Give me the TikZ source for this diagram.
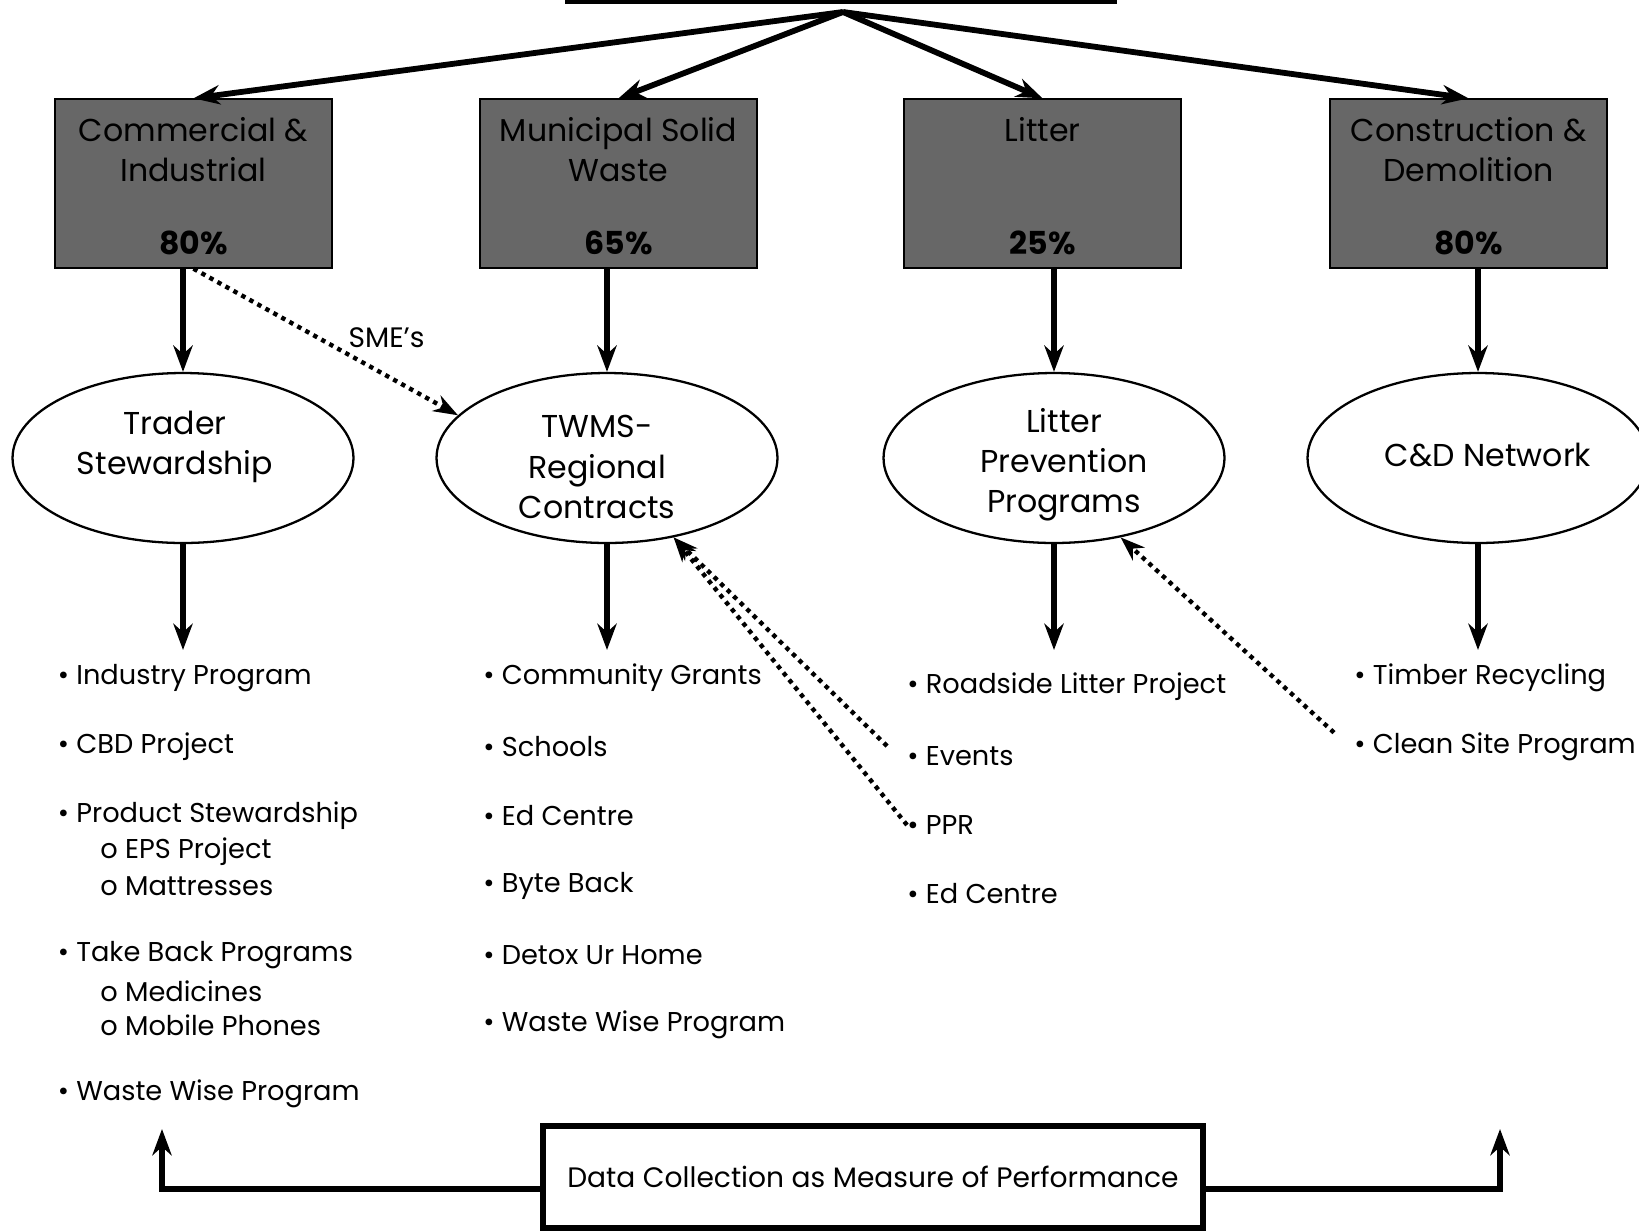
\documentclass[tikz,border=0pt]{standalone}
\usepackage{fontspec}
\setmainfont{Poppins}
\usetikzlibrary{arrows.meta,shapes.geometric}
\definecolor{boxgray}{RGB}{103,103,103}
\begin{document}
\begin{tikzpicture}[x=0.02cm, y=-0.02cm,
    stream/.style={draw, line width=0.8pt, fill=boxgray, minimum width=5.54cm, minimum height=3.38cm},
    streamtitle/.style={align=center, font=\fontsize{18}{22.8}\selectfont},
    percent/.style={font=\fontsize{18}{22.8}\selectfont\bfseries},
    program/.style={draw, ellipse, line width=1.3pt, inner sep=0pt, minimum width=6.82cm, minimum height=3.4cm},
    programtext/.style={align=center, font=\fontsize{18}{22.8}\selectfont},
    item/.style={anchor=west, inner sep=0pt, font=\fontsize{15.5}{19}\selectfont},
    flow/.style={line width=3.3pt, -{Stealth[length=15pt, width=11pt]}},
    hint/.style={line width=2.5pt, dash pattern=on 2.5pt off 2.7pt, -{Stealth[length=14pt, width=10pt]}},
    databox/.style={draw, line width=3.5pt, minimum width=13.2cm, minimum height=2.05cm, font=\fontsize{16}{20}\selectfont}]
  \useasboundingbox (0,0) rectangle (1639,1231);

  % waste streams
  \coordinate (apex) at (843,12);
  \draw[line width=2.3pt] (565,2) -- (1117,2);
  \node[stream] (ci) at (193.5,183.5) {};
  \node[stream] (msw) at (618.5,183.5) {};
  \node[stream] (lit) at (1042.5,183.5) {};
  \node[stream] (cd) at (1468.5,183.5) {};
  \node[streamtitle] (ci-title) at (193.5,149.5) {Commercial \&\\Industrial};
  \node[streamtitle] (msw-title) at (618.5,149.5) {Municipal Solid\\Waste};
  \node[streamtitle] (lit-title) at (1042.5,130) {Litter};
  \node[streamtitle] (cd-title) at (1468.5,149.5) {Construction \&\\Demolition};
  \node[percent] (ci-pct) at (193.5,243) {80\%};
  \node[percent] (msw-pct) at (618.5,243) {65\%};
  \node[percent] (lit-pct) at (1042.5,243) {25\%};
  \node[percent] (cd-pct) at (1468.5,243) {80\%};

  % programs
  \node[program] (trader) at (183,458) {};
  \node[program] (twms) at (607,458) {};
  \node[program] (lprev) at (1054,458) {};
  \node[program] (cdnet) at (1478,458) {};
  \node[programtext] (trader-text) at (175,447) {Trader\\Stewardship};
  \node[programtext] (twms-text) at (597,467) {TWMS-\\Regional\\Contracts};
  \node[programtext] (lprev-text) at (1064,465) {Litter\\Prevention\\Programs};
  \node[programtext] (cdnet-text) at (1488,455) {C\&D Network};

  % projects
  \node[item] (ind) at (57.5,678) {• Industry Program};
  \node[item] (cbd) at (57.5,747) {• CBD Project};
  \node[item] (prodstew) at (57.5,816) {• Product Stewardship};
  \node[item] (eps) at (100,852) {o EPS Project};
  \node[item] (matt) at (100,886) {o Mattresses};
  \node[item] (takeback) at (57.5,955) {• Take Back Programs};
  \node[item] (med) at (100,991) {o Medicines};
  \node[item] (mobile) at (100,1025) {o Mobile Phones};
  \node[item] (wwci) at (57.5,1094) {• Waste Wise Program};

  \node[item] (grants) at (483,678) {• Community Grants};
  \node[item] (schools) at (483,747) {• Schools};
  \node[item] (edmsw) at (483,816) {• Ed Centre};
  \node[item] (byte) at (483,886) {• Byte Back};
  \node[item] (detox) at (483,955) {• Detox Ur Home};
  \node[item] (wwmsw) at (483,1025) {• Waste Wise Program};

  \node[item] (road) at (907,687) {• Roadside Litter Project};
  \node[item] (events) at (907,756) {• Events};
  \node[item] (ppr) at (907,825) {• PPR};
  \node[item] (edlit) at (907,894) {• Ed Centre};

  \node[item] (timber) at (1354,678) {• Timber Recycling};
  \node[item] (clean) at (1354,747) {• Clean Site Program};

  \node[databox] (data) at (873,1177) {Data Collection as Measure of Performance};

  \coordinate (trader-end) at (183,650);
  \coordinate (twms-end) at (607,650);
  \coordinate (lprev-end) at (1054,650);
  \coordinate (cdnet-end) at (1478,650);
  \coordinate (fb-ci) at (162,1129);
  \coordinate (fb-cd) at (1500,1129);

  \begin{scope}[flow]
    \draw (apex) to (ci.north);
    \draw (apex) to (msw.north);
    \draw (apex) to (lit.north);
    \draw (apex) to (cd.north);
    \draw (trader.north |- ci.south) to (trader.north);
    \draw (twms.north |- msw.south) to (twms.north);
    \draw (lprev.north |- lit.south) to (lprev.north);
    \draw (cdnet.north |- cd.south) to (cdnet.north);
    \draw (trader.south) to (trader-end);
    \draw (twms.south) to (twms-end);
    \draw (lprev.south) to (lprev-end);
    \draw (cdnet.south) to (cdnet-end);
    \draw ([yshift=-0.24cm]data.west) -| (fb-ci);
    \draw ([yshift=-0.24cm]data.east) -| (fb-cd);
  \end{scope}

  \begin{scope}[hint]
    \draw (ci.south) to node[pos=0.73, yshift=0.76cm, font=\fontsize{16}{19}\selectfont] (sme) {SME’s} (twms.164);
    \draw ([xshift=-0.4cm]events.north west) to (twms.-50);
    \draw (ppr.west) to (twms.-50);
    \draw ([xshift=-0.4cm]clean.north west) to (lprev.-50);
  \end{scope}
\end{tikzpicture}
\end{document}
